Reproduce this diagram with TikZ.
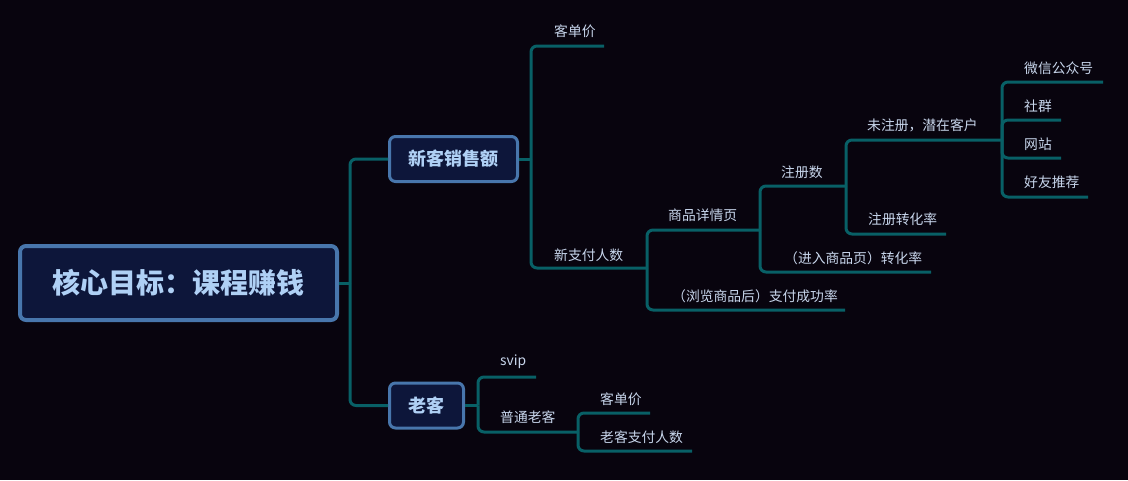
\documentclass[tikz,border=0pt]{standalone}
\usepackage{fontspec}
\newfontfamily\cjk{Noto Sans CJK SC}
\definecolor{bgc}{RGB}{8,4,14}
\definecolor{teal0}{RGB}{8,96,102}
\definecolor{boxfill}{RGB}{13,22,58}
\definecolor{boxdraw}{RGB}{72,118,172}
\definecolor{boxtext}{RGB}{175,208,245}
\definecolor{leaftext}{RGB}{200,214,236}
\begin{document}
\begin{tikzpicture}[x=1pt,y=-1pt,
  conn/.style={draw=teal0,line width=3pt,rounded corners=6pt},
  rootbox/.style={draw=boxdraw,fill=boxfill,line width=4pt,rounded corners=6pt,
    minimum width=317pt,minimum height=74pt,inner sep=0pt,
    font=\cjk\bfseries\fontsize{28}{30}\selectfont,text=boxtext},
  subbox/.style={draw=boxdraw,fill=boxfill,line width=3pt,rounded corners=6pt,
    minimum height=45pt,inner sep=0pt,
    font=\cjk\bfseries\fontsize{18}{20}\selectfont,text=boxtext},
  leaf/.style={anchor=west,inner sep=0pt,font=\cjk\fontsize{13.8}{15}\selectfont,text=leaftext}]
\fill[bgc] (0,0) rectangle (1128,480);
\useasboundingbox (0,0) rectangle (1128,480);

% main nodes
\node[rootbox] (root) at (178.5,283) {核心目标：课程赚钱};
\node[subbox,minimum width=128pt] (xk) at (453.5,159) {新客销售额};
\node[subbox,minimum width=74pt] (lk) at (426.5,405.5) {老客};

\coordinate (j0) at (350,283);
\draw[conn] (root.east) -- (j0);
\draw[conn] (j0) |- (xk.west);
\draw[conn] (j0) |- (lk.west);

% 新客销售额 children
\coordinate (j1) at (531,159);
\draw[conn] (xk.east) -- (j1);
\coordinate (e11) at (604,46);
\coordinate (e12) at (647,268);
\node[leaf] (t11) at (554,31) {客单价};
\node[leaf] (t12) at (554,255) {新支付人数};
\draw[conn] (j1) |- (e11);
\draw[conn] (j1) |- (e12);

% 新支付人数 children
\coordinate (e21) at (760,230);
\coordinate (e22) at (845,310);
\node[leaf] (t21) at (668,215) {商品详情页};
\node[leaf] (t22) at (672,296) {（浏览商品后）支付成功率};
\draw[conn] (e12) |- (e21);
\draw[conn] (e12) |- (e22);

% 商品详情页 children
\coordinate (e31) at (846,186);
\coordinate (e32) at (931,272);
\node[leaf] (t31) at (781,172) {注册数};
\node[leaf] (t32) at (784,258) {（进入商品页）转化率};
\draw[conn] (e21) |- (e31);
\draw[conn] (e21) |- (e32);

% 注册数 children
\coordinate (e41) at (1002,140);
\coordinate (e42) at (946,234);
\node[leaf] (t41) at (867,125) {未注册，潜在客户};
\node[leaf] (t42) at (868,219) {注册转化率};
\draw[conn] (e31) |- (e41);
\draw[conn] (e31) |- (e42);

% 未注册 children
\coordinate (e51) at (1103,82);
\coordinate (e52) at (1061,120);
\coordinate (e53) at (1061,158);
\coordinate (e54) at (1088,197);
\node[leaf] (t51) at (1024,68) {微信公众号};
\node[leaf] (t52) at (1024,106) {社群};
\node[leaf] (t53) at (1024,144) {网站};
\node[leaf] (t54) at (1024,182) {好友推荐};
\draw[conn] (e41) |- (e51);
\draw[conn] (e41) |- (e52);
\draw[conn] (e41) |- (e53);
\draw[conn] (e41) |- (e54);

% 老客 children
\coordinate (j6) at (478,405.5);
\draw[conn] (lk.east) -- (j6);
\coordinate (e61) at (536,377);
\coordinate (e62) at (578,432);
\node[leaf] (t61) at (500,362) {svip};
\node[leaf] (t62) at (500,417) {普通老客};
\draw[conn] (j6) |- (e61);
\draw[conn] (j6) |- (e62);

% 普通老客 children
\coordinate (e71) at (650,413);
\coordinate (e72) at (692,451);
\node[leaf] (t71) at (600,399) {客单价};
\node[leaf] (t72) at (600,437) {老客支付人数};
\draw[conn] (e62) |- (e71);
\draw[conn] (e62) |- (e72);
\end{tikzpicture}
\end{document}
